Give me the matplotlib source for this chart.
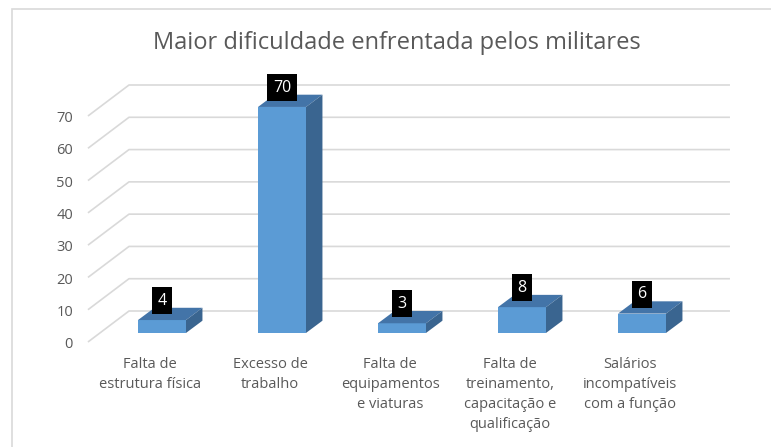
import matplotlib
matplotlib.use('Agg')
import matplotlib.pyplot as plt
from matplotlib.patches import Polygon, Rectangle

# data
categories = ['Falta de\nestrutura física', 'Excesso de\ntrabalho',
              'Falta de\nequipamentos\ne viaturas',
              'Falta de\ntreinamento,\ncapacitação e\nqualificação',
              'Salários\nincompatíveis\ncom a função']
values = [4, 70, 3, 8, 6]
yticks = [0, 10, 20, 30, 40, 50, 60, 70]

title = 'Maior dificuldade enfrentada pelos militares'

# 3d look (in data units)
back_dx, back_dy = 0.342, 9.6     # wall depth
front_dx, front_dy = 0.10, 2.8    # bar front plane offset
bar_dx, bar_dy = 0.137, 3.8       # bar depth
half_w = 0.20

c_front = '#5b9bd5'
c_top = '#4374a8'
c_side = '#3a6590'
c_grid = '#d9d9d9'
c_text = '#595959'

plt.rcParams['font.family'] = ['Open Sans', 'DejaVu Sans']

W, H = 771, 447
fig = plt.figure(figsize=(W / 100, H / 100), dpi=100)
ax = fig.add_axes([0, 0, 1, 1])
# pixel mapping: x_px = 150 + 120*x ; y_px(from bottom) = 105 + 3.2286*v
ax.set_xlim((0 - 150) / 120, (W - 150) / 120)
ax.set_ylim((0 - 105) / 3.2286, (H - 105) / 3.2286)
ax.axis('off')

# chart border
fig.patches.append(Rectangle((12 / W, -0.1), 1.2, 1 - 9 / H + 0.1,
                             transform=fig.transFigure, fill=False,
                             edgecolor=c_grid, linewidth=1.2))

x_left = -0.517
x_right = len(categories) - 0.5 + back_dx - 0.009
for v in yticks:
    ax.plot([x_left, x_left + back_dx, x_right], [v, v + back_dy, v + back_dy],
            color=c_grid, lw=1.2, zorder=1, solid_capstyle='butt')
    ax.text(-0.642, v - 0.8, str(v), ha='right', va='center', fontsize=10.5,
            color=c_text)

for i, (cat, v) in enumerate(zip(categories, values)):
    x0 = i - half_w + front_dx
    x1 = i + half_w + front_dx
    y0 = front_dy
    y1 = front_dy + v
    ax.add_patch(Polygon([(x0, y0), (x1, y0), (x1, y1), (x0, y1)],
                         closed=True, facecolor=c_front, edgecolor='none', zorder=3))
    ax.add_patch(Polygon([(x0, y1), (x1, y1), (x1 + bar_dx, y1 + bar_dy),
                          (x0 + bar_dx, y1 + bar_dy)],
                         closed=True, facecolor=c_top, edgecolor='none', zorder=3))
    ax.add_patch(Polygon([(x1, y0), (x1 + bar_dx, y0 + bar_dy),
                          (x1 + bar_dx, y1 + bar_dy), (x1, y1)],
                         closed=True, facecolor=c_side, edgecolor='none', zorder=3))
    ax.text(i + front_dx, y1 + 6.0, str(v), ha='center', va='center',
            fontsize=11.5, color='white', zorder=5,
            bbox=dict(boxstyle='square,pad=0.35', facecolor='black', edgecolor='none'))
    ax.text(i, -4.6, cat, ha='center', va='top', fontsize=10.5, color=c_text,
            linespacing=1.45)

fig.text(397 / W, 1 - 43 / H, title, ha='center', va='center', fontsize=17,
         color=c_text)

fig.savefig('out.png', dpi=100)
